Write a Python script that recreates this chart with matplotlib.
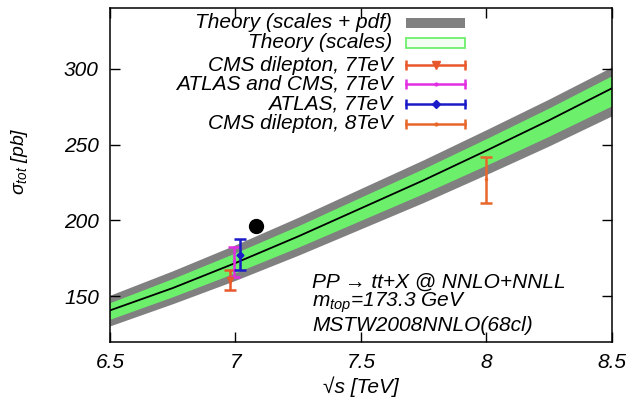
import matplotlib
matplotlib.use('Agg')
import matplotlib.pyplot as plt
from matplotlib.patches import Rectangle

plt.rcParams['font.family'] = ['Liberation Sans', 'DejaVu Sans']
plt.rcParams['font.style'] = 'italic'
plt.rcParams['mathtext.fontset'] = 'custom'
plt.rcParams['mathtext.rm'] = 'Liberation Sans:italic'
plt.rcParams['mathtext.it'] = 'Liberation Sans:italic'

# theory curve (NNLO+NNLL) and its uncertainty bands
sqrt_s = [6.5, 6.75, 7.0, 7.25, 7.5, 7.75, 8.0, 8.25, 8.5]
central = [140.8, 155.5, 172.0, 189.5, 208.0, 226.5, 246.0, 266.0, 287.0]
scales_hi = [145.9, 161.8, 178.7, 196.5, 215.4, 234.2, 253.9, 274.1, 295.3]
scales_lo = [135.0, 149.8, 165.6, 182.4, 200.1, 217.8, 236.4, 255.5, 275.5]
pdf_hi = [150.8, 166.9, 184.0, 202.1, 221.1, 240.0, 259.8, 280.0, 301.1]
pdf_lo = [130.6, 145.2, 160.6, 177.1, 194.5, 211.9, 230.3, 249.1, 268.9]

# measurements
exp_labels = ['CMS dilepton, 7TeV', 'ATLAS and CMS, 7TeV', 'ATLAS, 7TeV', 'CMS dilepton, 8TeV']
exp_x = [6.978, 6.995, 7.018, 8.0]
exp_y = [161.0, 173.0, 177.0, 227.0]
exp_lo = [154.0, 162.8, 167.2, 211.5]
exp_hi = [167.6, 182.6, 188.0, 242.0]
exp_colors = ['#e8582a', '#e22ee2', '#1a1ac8', '#e8662a']
exp_markers = ['v', '.', 'D', '.']
exp_msize = [5, 3, 3.5, 3]

# black dot
dot_x = [7.082]
dot_y = [196.6]

fig = plt.figure(figsize=(6.32, 4.04), dpi=100)
ax = fig.add_axes([0.174, 0.1535, 0.794, 0.827])

gray = '#808080'
green = '#6cf06c'
ax.fill_between(sqrt_s, pdf_lo, pdf_hi, color=gray, lw=0, zorder=1)
ax.fill_between(sqrt_s, scales_lo, scales_hi, color=green, lw=0, zorder=2)
ax.plot(sqrt_s, central, color='black', lw=1.3, zorder=3)

for i in range(len(exp_x)):
    yerr = [[exp_y[i] - exp_lo[i]], [exp_hi[i] - exp_y[i]]]
    ax.errorbar([exp_x[i]], [exp_y[i]], yerr=yerr, color=exp_colors[i],
                marker=exp_markers[i], ms=exp_msize[i], lw=1.8, capsize=4,
                capthick=1.8, zorder=5)

ax.plot(dot_x, dot_y, 'o', color='black', ms=10, zorder=6)

fs = 15
ax.set_xlim(6.5, 8.5)
ax.set_ylim(120, 340)
ax.set_xticks([6.5, 7, 7.5, 8, 8.5])
ax.set_xticklabels(['6.5', '7', '7.5', '8', '8.5'])
ax.set_yticks([150, 200, 250, 300])
ax.tick_params(direction='in', length=7, width=1, top=True, right=True,
               labelsize=fs, pad=8, colors='black')
for sp in ax.spines.values():
    sp.set_linewidth(1.1)

ax.set_xlabel('\u221as [TeV]', fontsize=fs, labelpad=3)
ax.set_ylabel(r'$\sigma_{tot}$ [pb]', fontsize=14)
ax.yaxis.set_label_coords(-0.16, 0.54)

# gnuplot style key: text on the left, sample on the right
tx = 0.563
sx0, sx1 = 0.590, 0.708
rows = [0.955, 0.895, 0.829, 0.772, 0.713, 0.653]
ax.text(tx, rows[0], 'Theory (scales + pdf)', transform=ax.transAxes,
        ha='right', va='center', fontsize=fs)
ax.add_patch(Rectangle((sx0, rows[0] - 0.016), sx1 - sx0, 0.032,
                       transform=ax.transAxes, facecolor=gray, edgecolor=gray, lw=0))
ax.text(tx, rows[1], 'Theory (scales)', transform=ax.transAxes,
        ha='right', va='center', fontsize=fs)
ax.add_patch(Rectangle((sx0, rows[1] - 0.016), sx1 - sx0, 0.032,
                       transform=ax.transAxes, facecolor='#f4fff4', edgecolor=green, lw=1.3))
for i in range(len(exp_labels)):
    y = rows[i + 2]
    ax.text(tx, y, exp_labels[i], transform=ax.transAxes,
            ha='right', va='center', fontsize=fs)
    ax.plot([sx0, sx1], [y, y], color=exp_colors[i], lw=1.8, transform=ax.transAxes)
    ax.plot([sx0, sx1], [y, y], ls='none', marker='|', ms=7, mew=1.8,
            color=exp_colors[i], transform=ax.transAxes)
    ax.plot([(sx0 + sx1) / 2], [y], marker=exp_markers[i], ms=exp_msize[i] + 1,
            color=exp_colors[i], transform=ax.transAxes)

ax.text(0.403, 0.180, 'PP \u2192 tt+X @ NNLO+NNLL', transform=ax.transAxes,
        ha='left', va='center', fontsize=fs)
ax.text(0.403, 0.116, r'$m_{top}$=173.3 GeV', transform=ax.transAxes,
        ha='left', va='center', fontsize=fs)
ax.text(0.403, 0.050, 'MSTW2008NNLO(68cl)', transform=ax.transAxes,
        ha='left', va='center', fontsize=fs)

fig.savefig('out.png', dpi=100)
